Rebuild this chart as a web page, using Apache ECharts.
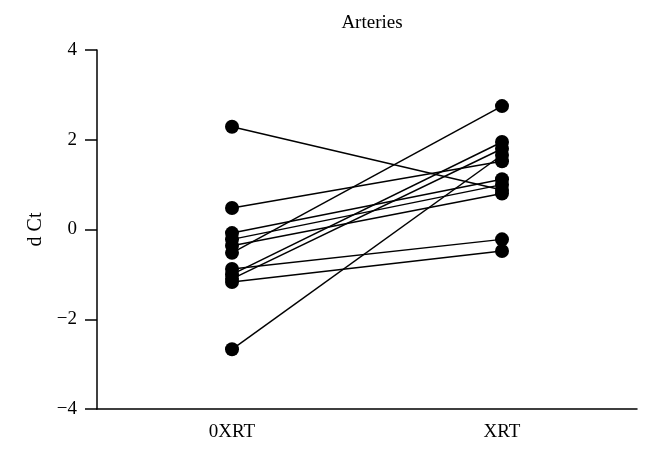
<!DOCTYPE html>
<html><head><meta charset="utf-8">
<script src="https://cdn.jsdelivr.net/npm/echarts@6/dist/echarts.min.js"></script>
<style>html,body{margin:0;padding:0;background:#fff}#c{width:651px;height:462px}</style>
</head><body><div id="c"></div>
<script>
var categories = ['0XRT', 'XRT'];
var before = [2.29, 0.48, -0.08, -0.22, -0.36, -1.1, -0.52, -0.88, -1.0, -1.17, -2.67];
var after  = [0.88, 1.52, 1.12, 1.0, 0.8, 1.8, 2.75, -0.22, 1.95, -0.48, 1.66];
var yTicks = [-4, -2, 0, 2, 4];

var font = 'Liberation Serif';
var series = before.map(function (b, i) {
  return {
    type: 'line', data: [b, after[i]], symbol: 'circle', symbolSize: 14,
    lineStyle: { color: '#000', width: 1.5 }, itemStyle: { color: '#000' },
    silent: true, animation: false
  };
});
var chart = echarts.init(document.getElementById('c'));
chart.setOption({
  backgroundColor: '#fff',
  title: { text: 'Arteries', left: 367, textAlign: 'center', top: 9,
    textStyle: { fontFamily: font, fontSize: 19, fontWeight: 'normal', color: '#000' } },
  grid: { left: 97, right: 14, top: 50, bottom: 53 },
  xAxis: { type: 'category', data: categories, boundaryGap: true,
    axisLine: { onZero: false, lineStyle: { color: '#000', width: 1.5 } },
    axisTick: { alignWithLabel: true, length: 7, lineStyle: { color: '#000', width: 1.5 } },
    axisLabel: { fontFamily: font, fontSize: 19, color: '#000', margin: 14 } },
  yAxis: { type: 'value', min: yTicks[0], max: yTicks[yTicks.length - 1], interval: 2,
    name: 'd Ct', nameLocation: 'middle', nameGap: 51, nameRotate: 90,
    nameTextStyle: { fontFamily: font, fontSize: 20, color: '#000' },
    splitLine: { show: false },
    axisLine: { show: true, lineStyle: { color: '#000', width: 1.5 } },
    axisTick: { show: true, length: 12, lineStyle: { color: '#000', width: 1.5 } },
    axisLabel: { fontFamily: font, fontSize: 19, color: '#000', margin: 20,
      formatter: function (v) { return v < 0 ? '\u2212' + Math.abs(v) : String(v); } } },
  series: series
});
</script></body></html>
